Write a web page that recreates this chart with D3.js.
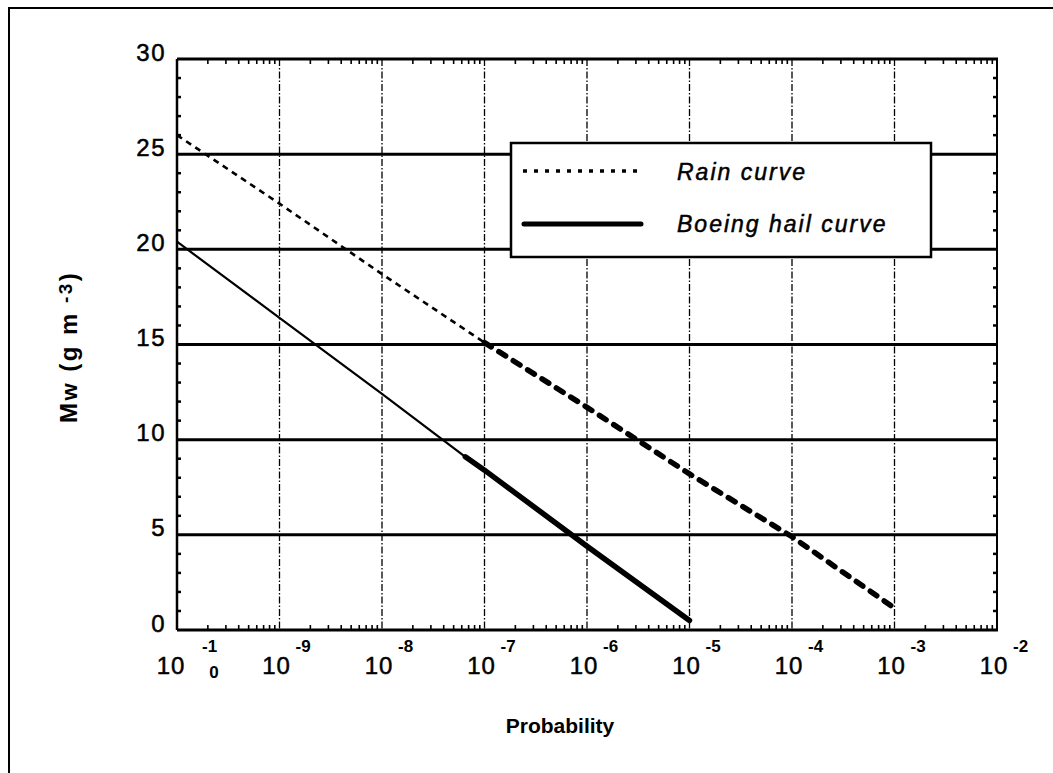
<!DOCTYPE html>
<html>
<head>
<meta charset="utf-8">
<script src="https://cdn.jsdelivr.net/npm/d3@7"></script>
<style>
  html, body { margin: 0; padding: 0; background: #fff; }
  svg { display: block; font-family: "Liberation Sans", Arial, Helvetica, sans-serif; }
  .heavy { stroke: #000; stroke-width: 0.5px; }
</style>
</head>
<body>
<svg id="chart" width="1053" height="773"></svg>
<script>
// Liquid water content Mw versus exceedance probability
const decadeExponents = [-10, -9, -8, -7, -6, -5, -4, -3, -2];
const mwTicks = [0, 5, 10, 15, 20, 25, 30];
const mwGrid = [5, 10, 15, 20, 25];

// Rain curve: extrapolated part (thin dashes) and measured part (heavy dashes)
const rainExtrapProb = [1e-10, 1e-9, 1e-8, 1e-7];
const rainExtrapMw   = [26.0, 22.4, 18.7, 15.1];
const rainMeasProb   = [1e-7, 1e-6, 1e-5, 1e-4, 1e-3];
const rainMeasMw     = [15.1, 11.7, 8.2, 4.9, 1.15];

// Boeing hail curve: extrapolated part (thin) and measured part (heavy)
const hailExtrapProb = [1e-10, 1e-9, 1e-8, 6.5e-8];
const hailExtrapMw   = [20.4, 16.4, 12.4, 9.1];
const hailMeasProb   = [6.5e-8, 1e-7, 1e-6, 1e-5];
const hailMeasMw     = [9.1, 8.4, 4.4, 0.5];

const legendLabels = ["Rain curve", "Boeing hail curve"];

const svg = d3.select("#chart");
const plot = { left: 177, right: 997, top: 59, bottom: 630 };

const x = d3.scaleLog().domain([1e-10, 1e-2]).range([plot.left, plot.right]);
const y = d3.scaleLinear().domain([0, 30]).range([plot.bottom, plot.top]);

// outer frame (top and left edges)
svg.append("path")
  .attr("d", "M9,773 L9,8 L1053,8")
  .attr("fill", "none").attr("stroke", "#000").attr("stroke-width", 2);

// vertical dash-dot grid at each decade
const innerDecades = decadeExponents.slice(1, -1).map(e => Math.pow(10, e));
svg.append("g").selectAll("line").data(innerDecades).join("line")
  .attr("x1", d => x(d)).attr("x2", d => x(d))
  .attr("y1", plot.top).attr("y2", plot.bottom)
  .attr("stroke", "#000").attr("stroke-width", 1.3)
  .attr("stroke-dasharray", "7,2,1.5,2");

// horizontal solid grid every 5 units
svg.append("g").selectAll("line").data(mwGrid).join("line")
  .attr("x1", plot.left).attr("x2", plot.right)
  .attr("y1", d => y(d)).attr("y2", d => y(d))
  .attr("stroke", "#000").attr("stroke-width", 3);

// minor log ticks on bottom and top edges
const minorX = x.ticks().filter(v => {
  const m = v / Math.pow(10, Math.floor(Math.log10(v) + 1e-9));
  return Math.round(m) !== 1;
});
const tickG = svg.append("g").attr("stroke", "#000").attr("stroke-width", 1.6);
tickG.selectAll(".bt").data(minorX).join("line").attr("class", "bt")
  .attr("x1", d => x(d)).attr("x2", d => x(d))
  .attr("y1", plot.bottom).attr("y2", plot.bottom - 5);
tickG.selectAll(".tt").data(minorX).join("line").attr("class", "tt")
  .attr("x1", d => x(d)).attr("x2", d => x(d))
  .attr("y1", plot.top).attr("y2", plot.top + 5);

// minor ticks on left and right edges, every unit
const minorY = d3.range(1, 30).filter(v => v % 5 !== 0);
tickG.selectAll(".lt").data(minorY).join("line").attr("class", "lt")
  .attr("x1", plot.left).attr("x2", plot.left + 4)
  .attr("y1", d => y(d)).attr("y2", d => y(d)).attr("stroke-width", 2.5);
tickG.selectAll(".rt").data(minorY).join("line").attr("class", "rt")
  .attr("x1", plot.right).attr("x2", plot.right - 4)
  .attr("y1", d => y(d)).attr("y2", d => y(d)).attr("stroke-width", 2.5);

// curves
const line = d3.line().x(d => x(d[0])).y(d => y(d[1]));
const zip = (a, b) => a.map((v, i) => [v, b[i]]);

svg.append("path").datum(zip(rainExtrapProb, rainExtrapMw))
  .attr("d", line).attr("fill", "none").attr("stroke", "#000")
  .attr("stroke-width", 2.6).attr("stroke-dasharray", "6,5");
svg.append("path").datum(zip(rainMeasProb, rainMeasMw))
  .attr("d", line).attr("fill", "none").attr("stroke", "#000")
  .attr("stroke-width", 5.5).attr("stroke-linecap", "round")
  .attr("stroke-dasharray", "8,9");

svg.append("path").datum(zip(hailExtrapProb, hailExtrapMw))
  .attr("d", line).attr("fill", "none").attr("stroke", "#000")
  .attr("stroke-width", 2.2);
svg.append("path").datum(zip(hailMeasProb, hailMeasMw))
  .attr("d", line).attr("fill", "none").attr("stroke", "#000")
  .attr("stroke-width", 5.5).attr("stroke-linecap", "round");

// plot border
svg.append("line").attr("x1", plot.left).attr("x2", plot.right + 1)
  .attr("y1", plot.bottom).attr("y2", plot.bottom).attr("stroke", "#000").attr("stroke-width", 3.2);
svg.append("line").attr("x1", plot.left).attr("x2", plot.right + 1)
  .attr("y1", plot.top).attr("y2", plot.top).attr("stroke", "#000").attr("stroke-width", 3);
svg.append("line").attr("x1", plot.left).attr("x2", plot.left)
  .attr("y1", plot.top).attr("y2", plot.bottom).attr("stroke", "#000").attr("stroke-width", 2.5);
svg.append("line").attr("x1", plot.right).attr("x2", plot.right)
  .attr("y1", plot.top).attr("y2", plot.bottom).attr("stroke", "#000").attr("stroke-width", 2);

// y tick labels
svg.append("g").selectAll("text").data(mwTicks).join("text")
  .attr("class", "heavy")
  .attr("x", 166).attr("y", d => y(d) + 1.5)
  .attr("text-anchor", "end").attr("font-size", 24).attr("letter-spacing", 1.5)
  .text(d => d);

// x tick labels: 10 with a raised exponent
const xl = svg.append("g").attr("fill", "#000");
decadeExponents.forEach((e, i) => {
  const px = x(Math.pow(10, e));
  if (i === 0) {
    xl.append("text").attr("class", "heavy").attr("x", px - 6).attr("y", 674).attr("text-anchor", "middle")
      .attr("font-size", 24).attr("letter-spacing", 1).text("10");
    xl.append("text").attr("x", px + 25).attr("y", 652)
      .attr("font-size", 17).attr("font-weight", "bold").text("-1");
    xl.append("text").attr("x", px + 37).attr("y", 678).attr("text-anchor", "middle")
      .attr("font-size", 17).attr("font-weight", "bold").text("0");
  } else {
    xl.append("text").attr("class", "heavy").attr("x", px - 3).attr("y", 674).attr("text-anchor", "middle")
      .attr("font-size", 24).attr("letter-spacing", 1).text("10");
    xl.append("text").attr("x", px + 16).attr("y", 652)
      .attr("font-size", 17).attr("font-weight", "bold").text(String(e));
  }
});

// axis titles
svg.append("text").attr("x", 560).attr("y", 733).attr("text-anchor", "middle")
  .attr("font-size", 21).attr("font-weight", "bold").text("Probability");

const yt = svg.append("text").attr("transform", "translate(77,423) rotate(-90)")
  .attr("font-size", 24).attr("font-weight", "bold").attr("letter-spacing", 2.5);
yt.append("tspan").text("M");
yt.append("tspan").attr("font-size", 22).text("w");
yt.append("tspan").text(" (g m");
yt.append("tspan").attr("dx", 8).attr("dy", -5).attr("font-size", 19).text("-3");
yt.append("tspan").attr("dy", 5).text(")");

// legend
const lg = svg.append("g");
lg.append("rect").attr("x", 511).attr("y", 143).attr("width", 420).attr("height", 114)
  .attr("fill", "#fff").attr("stroke", "#000").attr("stroke-width", 2.5);
lg.append("line").attr("x1", 523).attr("x2", 637).attr("y1", 171).attr("y2", 171)
  .attr("stroke", "#000").attr("stroke-width", 3.5).attr("stroke-dasharray", "4,7");
lg.append("line").attr("x1", 524).attr("x2", 641).attr("y1", 224).attr("y2", 224)
  .attr("stroke", "#000").attr("stroke-width", 5).attr("stroke-linecap", "round");
lg.selectAll("text").data(legendLabels).join("text")
  .attr("class", "heavy")
  .attr("x", 677).attr("y", (d, i) => i === 0 ? 180 : 232)
  .attr("font-size", 23).attr("font-style", "italic").attr("letter-spacing", 2)
  .text(d => d);
</script>
</body>
</html>
